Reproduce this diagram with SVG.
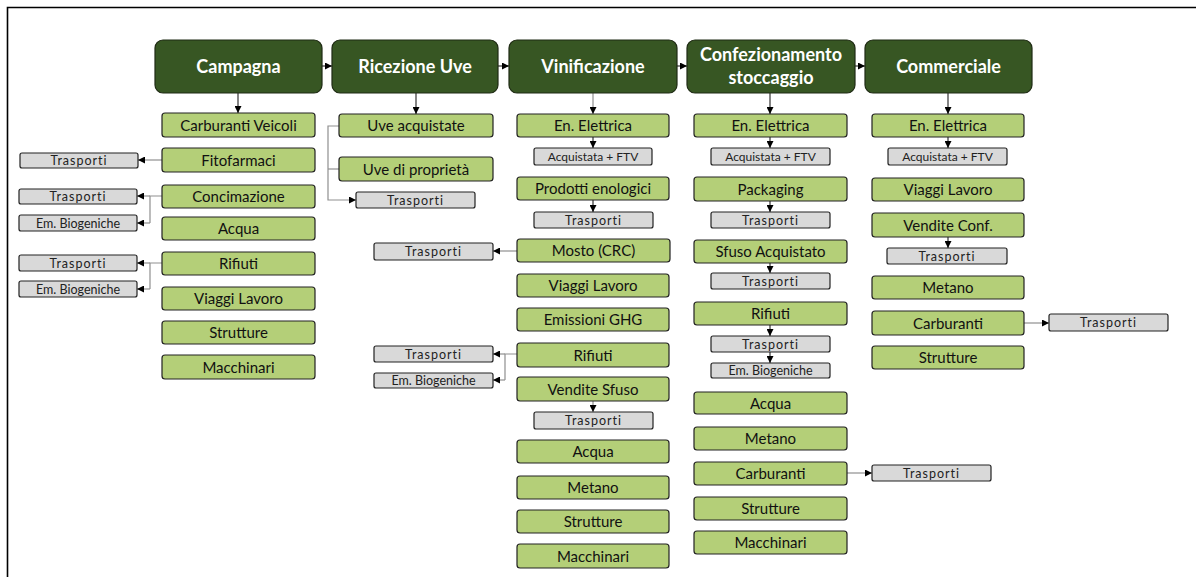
<svg xmlns="http://www.w3.org/2000/svg" width="1196" height="577" viewBox="0 0 1196 577">
<style>
.hd{fill:#375623;stroke:#1f2a14;stroke-width:1.2}
.gr{fill:#b4cf78;stroke:#222;stroke-width:1.2}
.gy{fill:#d9d9d9;stroke:#222;stroke-width:1.2}
.ht{font-family:Lato,"Open Sans",sans-serif;font-weight:bold;font-size:18px;fill:#fff;text-anchor:middle}
.gt{font-family:Lato,"Open Sans",sans-serif;font-size:15px;fill:#111;text-anchor:middle}
.yt{font-family:Lato,"Open Sans",sans-serif;font-size:12.5px;fill:#222;text-anchor:middle}
.tr{letter-spacing:1px}
.ft{font-size:12px}
.cn{fill:none;stroke:#8f8f8f;stroke-width:1.2}
.ca{fill:none;stroke:#8f8f8f;stroke-width:1.2;marker-end:url(#ah)}
.hk{fill:none;stroke:#333;stroke-width:1.2;marker-end:url(#ah)}
</style>
<defs>
<marker id="ah" viewBox="0 0 8 8" refX="8" refY="4" markerWidth="7" markerHeight="7" markerUnits="userSpaceOnUse" orient="auto">
<path d="M0,0 L8,4 L0,8 Z" fill="#000"/>
</marker>
</defs>
<rect width="1196" height="577" fill="#fff"/>
<path d="M7.5,577 V7.5 H1196" fill="none" stroke="#000" stroke-width="1.6"/>

<g id="connectors">
<line class="hk" x1="322" y1="66" x2="332" y2="66"/>
<line class="hk" x1="498" y1="66" x2="509" y2="66"/>
<line class="hk" x1="677" y1="66" x2="687" y2="66"/>
<line class="hk" x1="855" y1="66" x2="865" y2="66"/>
<line class="hk" x1="238" y1="93" x2="238" y2="113"/>
<line class="hk" x1="416" y1="93" x2="416" y2="114"/>
<line class="ca" x1="593" y1="93" x2="593" y2="114"/>
<line class="hk" x1="770" y1="93" x2="770" y2="114"/>
<line class="hk" x1="948" y1="93" x2="948" y2="114"/>
<line class="ca" x1="162" y1="160" x2="138" y2="160"/>
<path class="cn" d="M162,196 H150 V223"/>
<line class="ca" x1="150" y1="196" x2="137" y2="196"/>
<line class="ca" x1="150" y1="223" x2="137" y2="223"/>
<path class="cn" d="M162,263 H150 V289"/>
<line class="ca" x1="150" y1="263" x2="137" y2="263"/>
<line class="ca" x1="150" y1="289" x2="137" y2="289"/>
<path class="ca" d="M339,126 H328 V200 H356"/>
<line class="cn" x1="328" y1="169" x2="339" y2="169"/>
<line class="hk" x1="593" y1="137" x2="593" y2="148"/>
<line class="hk" x1="593" y1="200" x2="593" y2="212"/>
<line class="ca" x1="517" y1="251" x2="493" y2="251"/>
<path class="cn" d="M517,354 H505 V380"/>
<line class="ca" x1="505" y1="354" x2="493" y2="354"/>
<line class="ca" x1="505" y1="380" x2="493" y2="380"/>
<line class="ca" x1="593" y1="401" x2="593" y2="412"/>
<line class="hk" x1="770" y1="137" x2="770" y2="148"/>
<line class="hk" x1="770" y1="201" x2="770" y2="212"/>
<line class="hk" x1="770" y1="263" x2="770" y2="273"/>
<line class="hk" x1="770" y1="325" x2="770" y2="336"/>
<line class="hk" x1="770" y1="352" x2="770" y2="363"/>
<line class="ca" x1="847" y1="473" x2="872" y2="473"/>
<line class="hk" x1="948" y1="137" x2="948" y2="148"/>
<line class="hk" x1="948" y1="237" x2="948" y2="248"/>
<line class="ca" x1="1024" y1="323" x2="1049" y2="323"/>
</g>

<!-- Headers -->
<g id="h-campagna"><rect class="hd" x="155" y="40" width="167" height="53" rx="8"/><text class="ht" x="238.5" y="73">Campagna</text></g>
<g id="h-ricezione"><rect class="hd" x="332" y="40" width="166" height="53" rx="8"/><text class="ht" x="415" y="73">Ricezione Uve</text></g>
<g id="h-vinificazione"><rect class="hd" x="509" y="40" width="168" height="53" rx="8"/><text class="ht" x="593" y="73">Vinificazione</text></g>
<g id="h-confezionamento"><rect class="hd" x="687" y="40" width="168" height="53" rx="8"/><text class="ht" x="771" y="61">Confezionamento</text><text class="ht" x="771" y="84">stoccaggio</text></g>
<g id="h-commerciale"><rect class="hd" x="865" y="40" width="167" height="53" rx="8"/><text class="ht" x="948.5" y="73">Commerciale</text></g>

<!-- Campagna column -->
<g id="c1-carburanti"><rect class="gr" x="162" y="113" width="153" height="24" rx="3"/><text class="gt" x="238.5" y="130.5">Carburanti Veicoli</text></g>
<g id="c1-fitofarmaci"><rect class="gr" x="162" y="148" width="153" height="24" rx="3"/><text class="gt" x="238.5" y="165.5">Fitofarmaci</text></g>
<g id="c1-concimazione"><rect class="gr" x="162" y="185" width="153" height="23" rx="3"/><text class="gt" x="238.5" y="202">Concimazione</text></g>
<g id="c1-acqua"><rect class="gr" x="162" y="217" width="153" height="23" rx="3"/><text class="gt" x="238.5" y="234">Acqua</text></g>
<g id="c1-rifiuti"><rect class="gr" x="162" y="252" width="153" height="23" rx="3"/><text class="gt" x="238.5" y="269">Rifiuti</text></g>
<g id="c1-viaggi"><rect class="gr" x="162" y="287" width="153" height="23" rx="3"/><text class="gt" x="238.5" y="304">Viaggi Lavoro</text></g>
<g id="c1-strutture"><rect class="gr" x="162" y="321" width="153" height="23" rx="3"/><text class="gt" x="238.5" y="338">Strutture</text></g>
<g id="c1-macchinari"><rect class="gr" x="162" y="355" width="153" height="24" rx="3"/><text class="gt" x="238.5" y="372.5">Macchinari</text></g>
<g id="c1-trasp1"><rect class="gy" x="20" y="153" width="118" height="15" rx="2"/><text class="yt tr" x="79" y="165">Trasporti</text></g>
<g id="c1-trasp2"><rect class="gy" x="19" y="189" width="118" height="15" rx="2"/><text class="yt tr" x="78" y="201">Trasporti</text></g>
<g id="c1-bio1"><rect class="gy" x="19" y="215" width="118" height="16" rx="2"/><text class="yt" x="78" y="227.5">Em. Biogeniche</text></g>
<g id="c1-trasp3"><rect class="gy" x="19" y="255" width="118" height="16" rx="2"/><text class="yt tr" x="78" y="267.5">Trasporti</text></g>
<g id="c1-bio2"><rect class="gy" x="19" y="281" width="118" height="16" rx="2"/><text class="yt" x="78" y="293.5">Em. Biogeniche</text></g>

<!-- Ricezione column -->
<g id="c2-acquistate"><rect class="gr" x="339" y="114" width="154" height="23" rx="3"/><text class="gt" x="416" y="131">Uve acquistate</text></g>
<g id="c2-proprieta"><rect class="gr" x="339" y="157" width="154" height="24" rx="3"/><text class="gt" x="416" y="174.5">Uve di proprietà</text></g>
<g id="c2-trasp"><rect class="gy" x="356" y="192" width="119" height="16" rx="2"/><text class="yt tr" x="415.5" y="204.5">Trasporti</text></g>

<!-- Vinificazione column -->
<g id="c3-energia"><rect class="gr" x="517" y="114" width="152" height="23" rx="3"/><text class="gt" x="593" y="131">En. Elettrica</text></g>
<g id="c3-ftv"><rect class="gy" x="534" y="148" width="118" height="17" rx="2"/><text class="yt ft" x="593" y="161">Acquistata + FTV</text></g>
<g id="c3-enologici"><rect class="gr" x="517" y="177" width="152" height="23" rx="3"/><text class="gt" x="593" y="194">Prodotti enologici</text></g>
<g id="c3-trasp1"><rect class="gy" x="534" y="212" width="119" height="16" rx="2"/><text class="yt tr" x="593.5" y="224.5">Trasporti</text></g>
<g id="c3-mosto"><rect class="gr" x="517" y="239" width="153" height="23" rx="3"/><text class="gt" x="593.5" y="256">Mosto (CRC)</text></g>
<g id="c3-trasp2"><rect class="gy" x="374" y="243" width="119" height="17" rx="2"/><text class="yt tr" x="433.5" y="256">Trasporti</text></g>
<g id="c3-viaggi"><rect class="gr" x="517" y="274" width="152" height="23" rx="3"/><text class="gt" x="593" y="291">Viaggi Lavoro</text></g>
<g id="c3-ghg"><rect class="gr" x="517" y="308" width="152" height="23" rx="3"/><text class="gt" x="593" y="325">Emissioni GHG</text></g>
<g id="c3-rifiuti"><rect class="gr" x="517" y="343" width="152" height="24" rx="3"/><text class="gt" x="593" y="360.5">Rifiuti</text></g>
<g id="c3-trasp3"><rect class="gy" x="374" y="346" width="119" height="16" rx="2"/><text class="yt tr" x="433.5" y="358.5">Trasporti</text></g>
<g id="c3-bio"><rect class="gy" x="374" y="373" width="119" height="15" rx="2"/><text class="yt" x="433.5" y="385">Em. Biogeniche</text></g>
<g id="c3-sfuso"><rect class="gr" x="517" y="377" width="152" height="24" rx="3"/><text class="gt" x="593" y="394.5">Vendite Sfuso</text></g>
<g id="c3-trasp4"><rect class="gy" x="534" y="412" width="119" height="17" rx="2"/><text class="yt tr" x="593.5" y="425">Trasporti</text></g>
<g id="c3-acqua"><rect class="gr" x="517" y="440" width="152" height="23" rx="3"/><text class="gt" x="593" y="457">Acqua</text></g>
<g id="c3-metano"><rect class="gr" x="517" y="476" width="152" height="23" rx="3"/><text class="gt" x="593" y="493">Metano</text></g>
<g id="c3-strutture"><rect class="gr" x="517" y="510" width="152" height="23" rx="3"/><text class="gt" x="593" y="527">Strutture</text></g>
<g id="c3-macchinari"><rect class="gr" x="517" y="544" width="152" height="24" rx="3"/><text class="gt" x="593" y="561.5">Macchinari</text></g>

<!-- Confezionamento column -->
<g id="c4-energia"><rect class="gr" x="694" y="114" width="153" height="23" rx="3"/><text class="gt" x="770.5" y="131">En. Elettrica</text></g>
<g id="c4-ftv"><rect class="gy" x="711" y="148" width="119" height="17" rx="2"/><text class="yt ft" x="770.5" y="161">Acquistata + FTV</text></g>
<g id="c4-packaging"><rect class="gr" x="694" y="177" width="153" height="24" rx="3"/><text class="gt" x="770.5" y="194.5">Packaging</text></g>
<g id="c4-trasp1"><rect class="gy" x="711" y="212" width="119" height="16" rx="2"/><text class="yt tr" x="770.5" y="224.5">Trasporti</text></g>
<g id="c4-sfuso"><rect class="gr" x="694" y="240" width="153" height="23" rx="3"/><text class="gt" x="770.5" y="257">Sfuso Acquistato</text></g>
<g id="c4-trasp2"><rect class="gy" x="711" y="273" width="119" height="16" rx="2"/><text class="yt tr" x="770.5" y="285.5">Trasporti</text></g>
<g id="c4-rifiuti"><rect class="gr" x="694" y="302" width="153" height="23" rx="3"/><text class="gt" x="770.5" y="319">Rifiuti</text></g>
<g id="c4-trasp3"><rect class="gy" x="711" y="336" width="119" height="16" rx="2"/><text class="yt tr" x="770.5" y="348.5">Trasporti</text></g>
<g id="c4-bio"><rect class="gy" x="711" y="363" width="119" height="15" rx="2"/><text class="yt" x="770.5" y="375">Em. Biogeniche</text></g>
<g id="c4-acqua"><rect class="gr" x="694" y="392" width="153" height="22" rx="3"/><text class="gt" x="770.5" y="408.5">Acqua</text></g>
<g id="c4-metano"><rect class="gr" x="694" y="427" width="153" height="23" rx="3"/><text class="gt" x="770.5" y="444">Metano</text></g>
<g id="c4-carburanti"><rect class="gr" x="694" y="462" width="153" height="23" rx="3"/><text class="gt" x="770.5" y="479">Carburanti</text></g>
<g id="c4-trasp4"><rect class="gy" x="872" y="465" width="119" height="16" rx="2"/><text class="yt tr" x="931.5" y="477.5">Trasporti</text></g>
<g id="c4-strutture"><rect class="gr" x="694" y="497" width="153" height="23" rx="3"/><text class="gt" x="770.5" y="514">Strutture</text></g>
<g id="c4-macchinari"><rect class="gr" x="694" y="531" width="153" height="23" rx="3"/><text class="gt" x="770.5" y="548">Macchinari</text></g>

<!-- Commerciale column -->
<g id="c5-energia"><rect class="gr" x="872" y="114" width="152" height="23" rx="3"/><text class="gt" x="948" y="131">En. Elettrica</text></g>
<g id="c5-ftv"><rect class="gy" x="888" y="148" width="119" height="17" rx="2"/><text class="yt ft" x="947.5" y="161">Acquistata + FTV</text></g>
<g id="c5-viaggi"><rect class="gr" x="872" y="178" width="152" height="23" rx="3"/><text class="gt" x="948" y="195">Viaggi Lavoro</text></g>
<g id="c5-vendite"><rect class="gr" x="872" y="213" width="152" height="24" rx="3"/><text class="gt" x="948" y="230.5">Vendite Conf.</text></g>
<g id="c5-trasp1"><rect class="gy" x="887" y="248" width="120" height="16" rx="2"/><text class="yt tr" x="947" y="260.5">Trasporti</text></g>
<g id="c5-metano"><rect class="gr" x="872" y="276" width="152" height="23" rx="3"/><text class="gt" x="948" y="293">Metano</text></g>
<g id="c5-carburanti"><rect class="gr" x="872" y="311" width="152" height="24" rx="3"/><text class="gt" x="948" y="328.5">Carburanti</text></g>
<g id="c5-trasp2"><rect class="gy" x="1049" y="314" width="119" height="17" rx="2"/><text class="yt tr" x="1108.5" y="327">Trasporti</text></g>
<g id="c5-strutture"><rect class="gr" x="872" y="346" width="152" height="23" rx="3"/><text class="gt" x="948" y="363">Strutture</text></g>
</svg>
